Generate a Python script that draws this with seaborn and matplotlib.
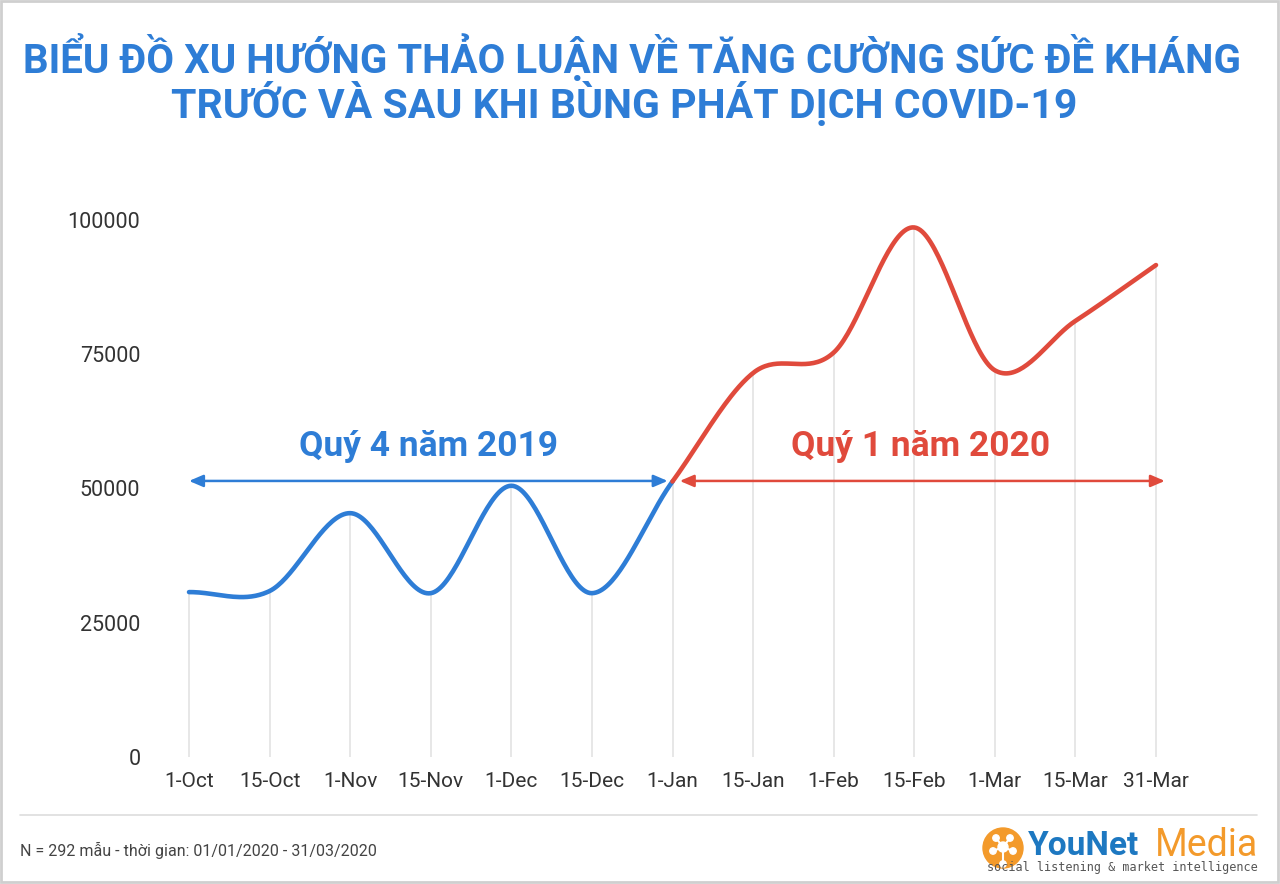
import numpy as np
import pandas as pd
import matplotlib.pyplot as plt
import seaborn as sns
from matplotlib.patches import Circle, Rectangle

# Data
dates = ['1-Oct', '15-Oct', '1-Nov', '15-Nov', '1-Dec', '15-Dec', '1-Jan',
         '15-Jan', '1-Feb', '15-Feb', '1-Mar', '15-Mar', '31-Mar']
mentions = [30700, 30900, 45400, 30500, 50500, 30500, 51300,
            71500, 75300, 98600, 72000, 81200, 91600]
split_idx = 6  # 1-Jan: start of Q1 2020
y_ticks = [0, 25000, 50000, 75000, 100000]

BLUE = '#2e7dd6'
RED = '#e04a3c'
TEXT = '#333333'


def catmull_rom(values, steps=40):
    # smooth line through every point (like the "smooth" option of the source chart)
    y = np.asarray(values, dtype=float)
    n = len(y)
    m = np.empty(n)
    m[1:-1] = (y[2:] - y[:-2]) / 2
    m[0] = y[1] - y[0]
    m[-1] = y[-1] - y[-2]
    xs, ys = [], []
    for i in range(n - 1):
        t = np.linspace(0, 1, steps, endpoint=(i == n - 2))
        h00 = 2 * t**3 - 3 * t**2 + 1
        h10 = t**3 - 2 * t**2 + t
        h01 = -2 * t**3 + 3 * t**2
        h11 = t**3 - t**2
        xs.append(i + t)
        ys.append(h00 * y[i] + h10 * m[i] + h01 * y[i + 1] + h11 * m[i + 1])
    return np.concatenate(xs), np.concatenate(ys)


sns.set_theme(style='white')
plt.rcParams['font.family'] = ['Roboto', 'DejaVu Sans']

fig = plt.figure(figsize=(12.8, 8.84), dpi=100)
ax = fig.add_axes([0.1162, 0.1437, 0.8184, 0.6075])

sx, sy = catmull_rom(mentions)
curve = pd.DataFrame({'x': sx, 'y': sy})
steps_per_seg = 40
cut = split_idx * steps_per_seg
before = curve.iloc[:cut + 1]
after = curve.iloc[cut:]

# drop lines from each point to the baseline
ax.vlines(range(len(dates)), 0, mentions, color='#e3e3e3', linewidth=1.2, zorder=1)

sns.lineplot(data=before, x='x', y='y', color=BLUE, linewidth=3.3, ax=ax,
             sort=False, zorder=3, solid_capstyle='round')
sns.lineplot(data=after, x='x', y='y', color=RED, linewidth=3.3, ax=ax,
             sort=False, zorder=4, solid_capstyle='round')

ax.set_xlim(-0.5, 12.5)
ax.set_ylim(0, 100000)
ax.set_xticks(range(len(dates)))
ax.set_xticklabels(dates)
ax.set_yticks(y_ticks)
ax.set_yticklabels([str(v) for v in y_ticks])
ax.tick_params(axis='x', length=0, pad=11, labelsize=15, labelcolor=TEXT)
ax.tick_params(axis='y', length=0, pad=6, labelsize=15.5, labelcolor=TEXT)
ax.set_xlabel('')
ax.set_ylabel('')
for s in ax.spines.values():
    s.set_visible(False)
ax.grid(False)

# quarter arrows and labels
arrow_y = 51400
ax.annotate('', xy=(5.94, arrow_y), xytext=(0.0, arrow_y),
            arrowprops=dict(arrowstyle='<|-|>,head_length=0.7,head_width=0.3',
                            color=BLUE, lw=1.8, shrinkA=0, shrinkB=0), zorder=5)
ax.annotate('', xy=(12.11, arrow_y), xytext=(6.09, arrow_y),
            arrowprops=dict(arrowstyle='<|-|>,head_length=0.7,head_width=0.3',
                            color=RED, lw=1.8, shrinkA=0, shrinkB=0), zorder=5)
ax.text(2.97, 57800, 'Quý 4 năm 2019', color=BLUE, fontsize=25.5,
        fontweight='bold', ha='center', va='center')
ax.text(9.08, 57800, 'Quý 1 năm 2020', color=RED, fontsize=25.5,
        fontweight='bold', ha='center', va='center')

# overlay in pixel coordinates for title, footer, logo and frame
ov = fig.add_axes([0, 0, 1, 1], zorder=-1)
ov.set_xlim(0, 1280)
ov.set_ylim(884, 0)
ov.axis('off')
ov.patch.set_alpha(0)

ov.add_patch(Rectangle((1, 1), 1277, 881, fill=False, edgecolor='#cfcfcf', lw=2))
ov.text(632, 57, 'BIỂU ĐỒ XU HƯỚNG THẢO LUẬN VỀ TĂNG CƯỜNG SỨC ĐỀ KHÁNG',
        color=BLUE, fontsize=29, fontweight='bold', ha='center', va='center')
ov.text(624, 103, 'TRƯỚC VÀ SAU KHI BÙNG PHÁT DỊCH COVID-19',
        color=BLUE, fontsize=29.5, fontweight='bold', ha='center', va='center')

ov.plot([20, 1257], [815, 815], color='#dddddd', lw=1.2)
ov.text(20, 850, 'N = 292 mẫu - thời gian: 01/01/2020 - 31/03/2020',
        color='#444444', fontsize=11.5, ha='left', va='center')

# logo
ov.add_patch(Circle((1003, 848), 20, color='#f39a2b'))
for (cx, cy) in [(996, 838), (1010, 838), (993, 851), (1013, 851), (1003, 864)]:
    ov.plot([1003, cx], [847, cy], color='white', lw=1.5)
    ov.add_patch(Circle((cx, cy), 3.2, color='white'))
ov.add_patch(Circle((1003, 847), 5, color='white'))
ov.text(1028, 846, 'YouNet', color='#1d78c1', fontsize=24, fontweight='bold',
        ha='left', va='center')
ov.text(1258, 846, 'Media', color='#f39a2b', fontsize=27, ha='right', va='center')
ov.text(1258, 868, 'social listening & market intelligence', color='#555555',
        fontsize=8.5, family=['DejaVu Sans Mono', 'DejaVu Sans'],
        ha='right', va='center')

fig.savefig('out.png', dpi=100, facecolor='white')
